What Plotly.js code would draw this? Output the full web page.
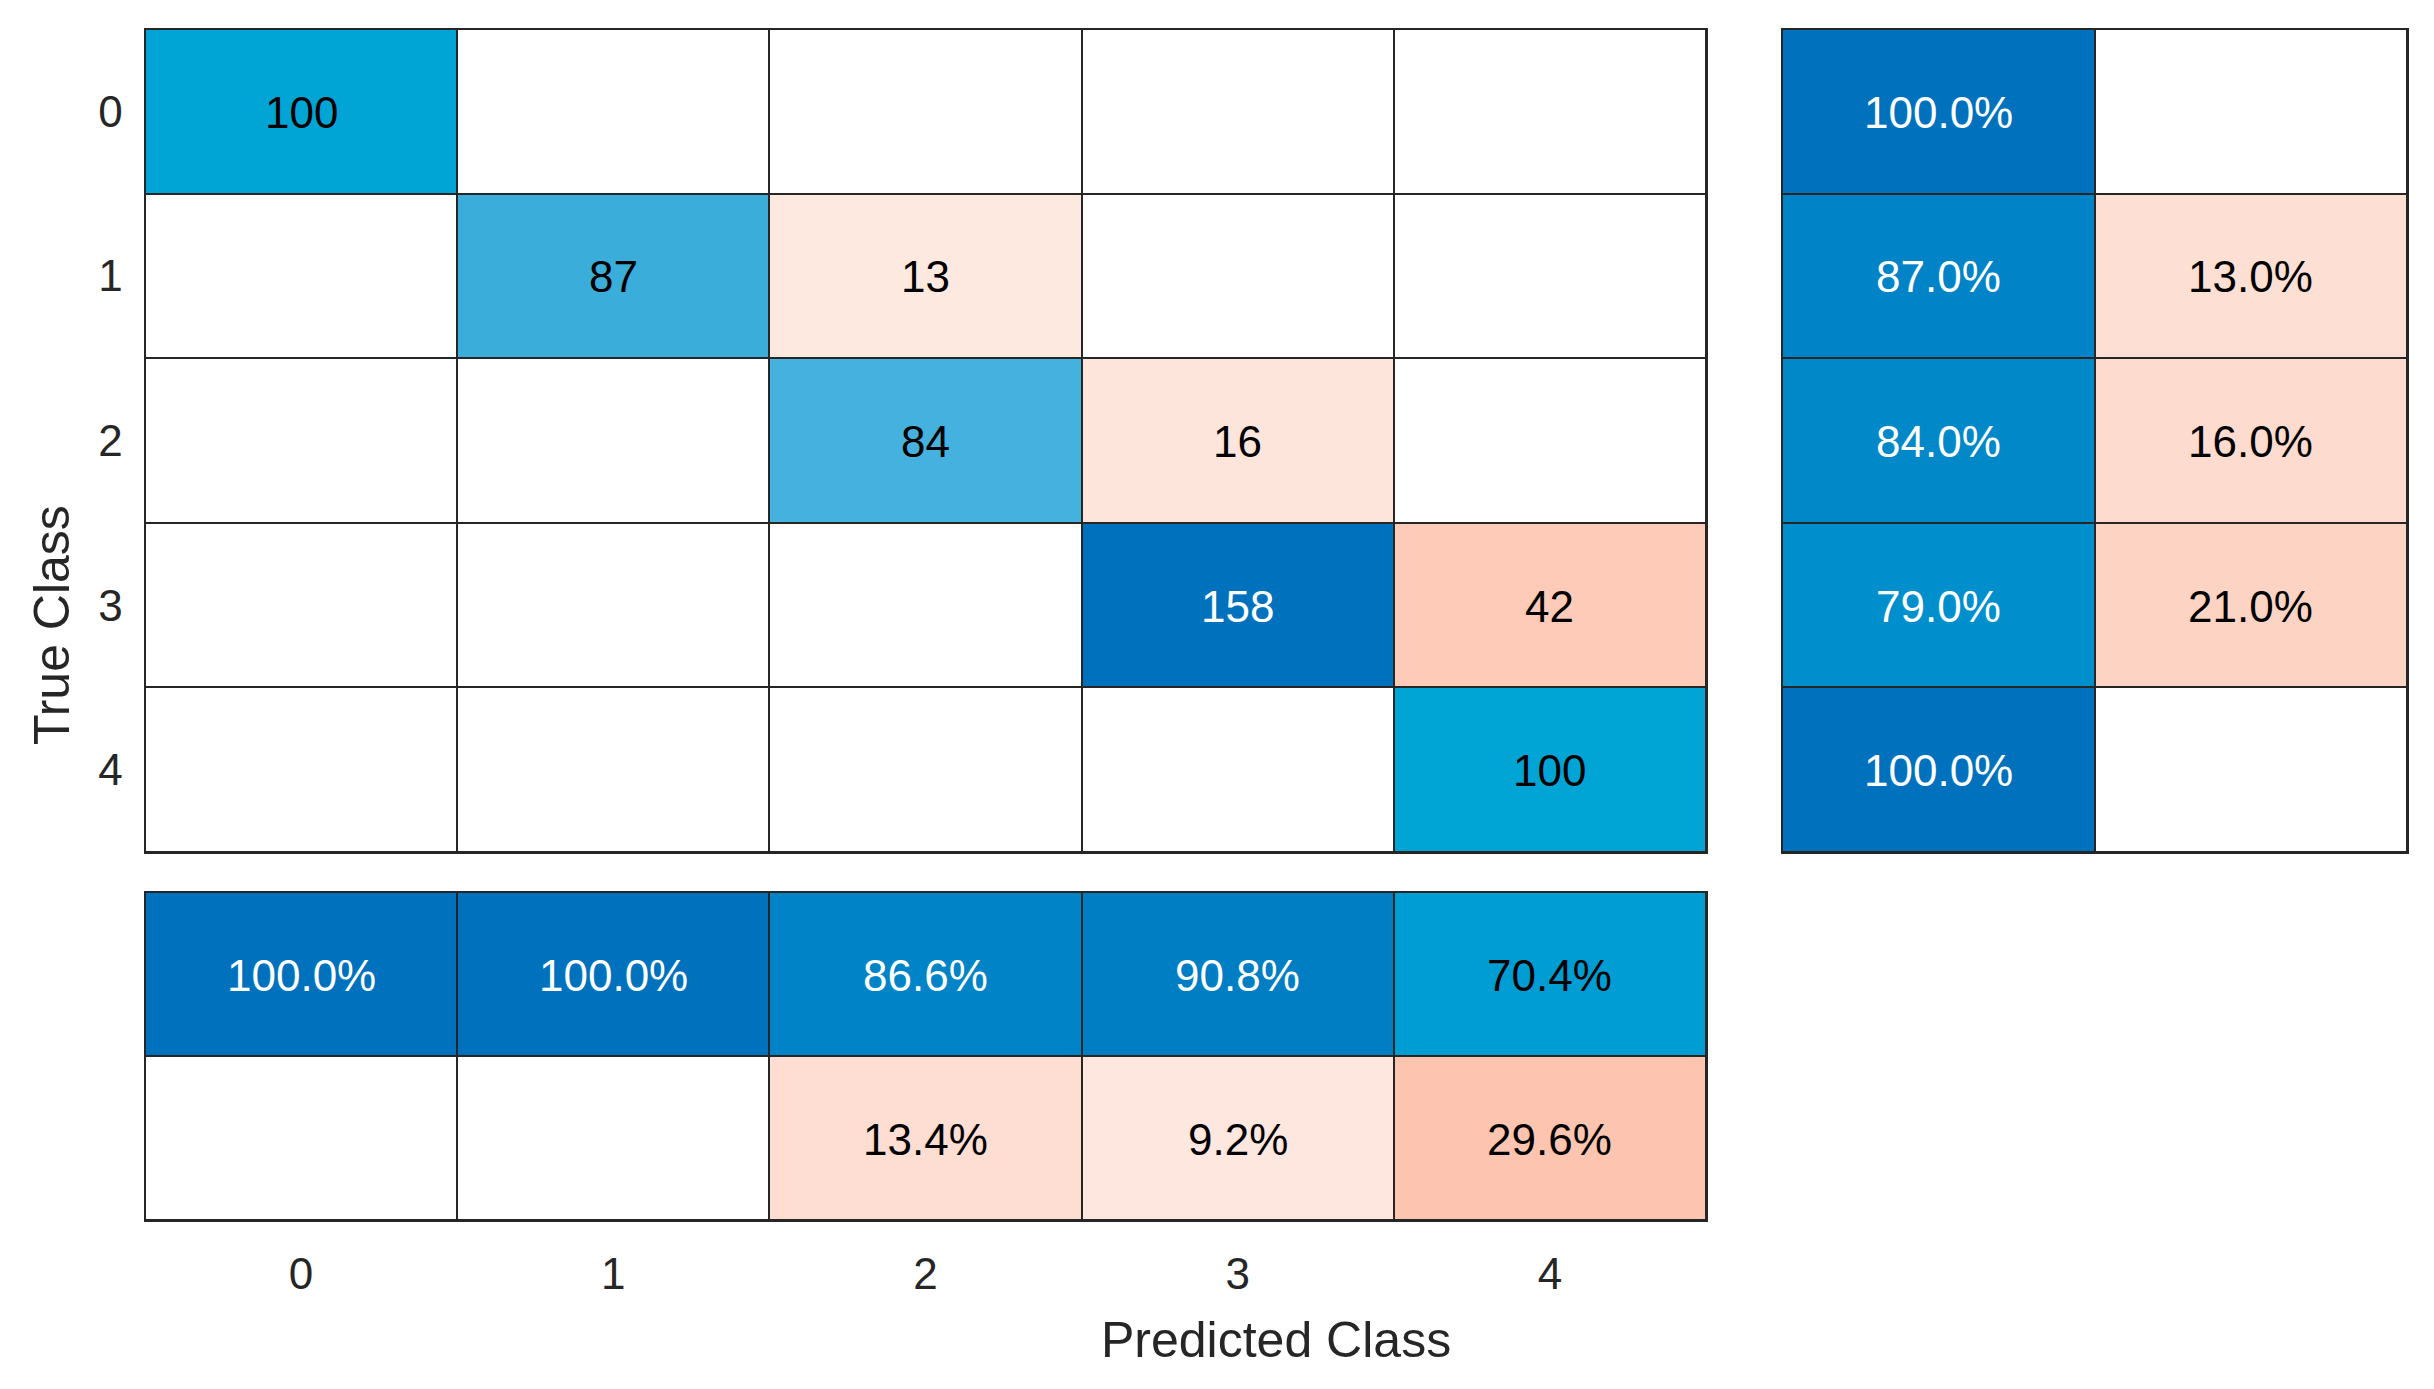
<!DOCTYPE html>
<html>
<head>
<meta charset="utf-8">
<script src="https://cdn.plot.ly/plotly-3.0.1.min.js"></script>
<style>html,body{margin:0;padding:0;background:#fff;}#chart{width:2434px;height:1389px;}</style>
</head>
<body>
<div id="chart"></div>
<script>
// ---- data ----
const classes = ['0', '1', '2', '3', '4'];
const counts = [
  [100, 0, 0, 0, 0],
  [0, 87, 13, 0, 0],
  [0, 0, 84, 16, 0],
  [0, 0, 0, 158, 42],
  [0, 0, 0, 0, 100]
];
const rowCorrectPct = [100.0, 87.0, 84.0, 79.0, 100.0];
const rowIncorrectPct = [0, 13.0, 16.0, 21.0, 0];
const colCorrectPct = [100.0, 100.0, 86.6, 90.8, 70.4];
const colIncorrectPct = [0, 0, 13.4, 9.2, 29.6];
const summaryCats = ['correct', 'incorrect'];
const xTitle = 'Predicted Class';
const yTitle = 'True Class';

// ---- styling ----
const W = 2434, H = 1389;
const FONT = 'Liberation Sans, Arial, Helvetica, sans-serif';
const LINE = '#262626';
const blueScale = [
  [0, '#ffffff'], [0.532, '#45b1de'], [0.551, '#3aaddb'], [0.633, '#00a5d6'],
  [0.704, '#009dd4'], [0.79, '#008fcd'], [0.84, '#0088c9'], [0.87, '#0083c7'],
  [0.908, '#007ec4'], [1, '#0072bd']
];
const salmonScale = [
  [0, '#ffffff'], [0.082, '#fee9e1'], [0.101, '#fee5dc'], [0.13, '#fedfd4'],
  [0.16, '#fddbcf'], [0.21, '#fdd4c4'], [0.266, '#fecbb8'], [0.296, '#fdc5b0'],
  [1, '#d95319']
];
const maxCount = Math.max(...counts.flat());

function heat(x, y, z, scale, zmax, xa, ya) {
  return {
    type: 'heatmap', x: x, y: y, z: z, colorscale: scale, zmin: 0, zmax: zmax,
    showscale: false, xgap: 2, ygap: 2, hoverinfo: 'skip', xaxis: xa, yaxis: ya
  };
}
const txtColor = (t, good) => (good && t > 0.75) ? '#ffffff' : '#000000';
const annotations = [];
function cellLabel(x, y, text, color, xa, ya) {
  annotations.push({
    x: x, y: y, xref: xa, yref: ya, text: text, showarrow: false,
    xanchor: 'center', yanchor: 'middle', yshift: -1,
    font: { family: FONT, size: 44, color: color }
  });
}

const traces = [];

// main matrix
const zDiag = counts.map((r, i) => r.map((v, j) => i === j ? v : null));
const zOff = counts.map((r, i) => r.map((v, j) => i === j ? null : v));
traces.push(heat(classes, classes, zDiag, blueScale, maxCount, 'x', 'y'));
traces.push(heat(classes, classes, zOff, salmonScale, maxCount, 'x', 'y'));
counts.forEach((r, i) => r.forEach((v, j) => {
  if (v > 0) cellLabel(classes[j], classes[i], String(v), txtColor(v / maxCount, i === j), 'x', 'y');
}));

// right summary (per true class)
const zRightC = classes.map((c, i) => [rowCorrectPct[i], null]);
const zRightI = classes.map((c, i) => [null, rowIncorrectPct[i]]);
traces.push(heat(summaryCats, classes, zRightC, blueScale, 100, 'x2', 'y2'));
traces.push(heat(summaryCats, classes, zRightI, salmonScale, 100, 'x2', 'y2'));
classes.forEach((c, i) => {
  [rowCorrectPct[i], rowIncorrectPct[i]].forEach((v, k) => {
    if (v > 0) cellLabel(summaryCats[k], c, v.toFixed(1) + '%', txtColor(v / 100, k === 0), 'x2', 'y2');
  });
});

// bottom summary (per predicted class)
traces.push(heat(classes, summaryCats, [colCorrectPct, classes.map(() => null)], blueScale, 100, 'x3', 'y3'));
traces.push(heat(classes, summaryCats, [classes.map(() => null), colIncorrectPct], salmonScale, 100, 'x3', 'y3'));
[colCorrectPct, colIncorrectPct].forEach((row, k) => row.forEach((v, j) => {
  if (v > 0) cellLabel(classes[j], summaryCats[k], v.toFixed(1) + '%', txtColor(v / 100, k === 0), 'x3', 'y3');
}));

function ax(domain, cats, showLabels, isY) {
  const a = {
    domain: domain, type: 'category', categoryorder: 'array', categoryarray: cats,
    showgrid: false, zeroline: false, ticks: '', showline: true, mirror: true,
    linecolor: LINE, linewidth: 1.5, showticklabels: showLabels, fixedrange: true,
    tickfont: { family: FONT, size: 44, color: '#262626' },
    ticklabelstandoff: isY ? 12 : 15
  };
  if (isY) a.autorange = 'reversed';
  return a;
}
const mainX = [145 / W, 1706 / W];
const rightX = [1782 / W, 2407 / W];
const topY = [1 - 852 / H, 1 - 29 / H];
const botY = [1 - 1220 / H, 1 - 892 / H];

annotations.push(
  { text: xTitle, xref: 'paper', yref: 'paper', x: 1276 / W, y: 1 - 1340 / H,
    xanchor: 'center', yanchor: 'middle', showarrow: false,
    font: { family: FONT, size: 50, color: '#262626' } },
  { text: yTitle, xref: 'paper', yref: 'paper', x: 52 / W, y: 1 - 625 / H,
    xanchor: 'center', yanchor: 'middle', showarrow: false, textangle: -90,
    font: { family: FONT, size: 50, color: '#262626' } }
);

const layout = {
  width: W, height: H,
  margin: { l: 0, r: 0, t: 0, b: 0 },
  paper_bgcolor: '#ffffff', plot_bgcolor: LINE,
  showlegend: false, hovermode: false,
  xaxis: Object.assign(ax(mainX, classes, false, false), { anchor: 'y' }),
  yaxis: Object.assign(ax(topY, classes, true, true), { anchor: 'x' }),
  xaxis2: Object.assign(ax(rightX, summaryCats, false, false), { anchor: 'y2' }),
  yaxis2: Object.assign(ax(topY, classes, false, true), { anchor: 'x2' }),
  xaxis3: Object.assign(ax(mainX, classes, true, false), { anchor: 'y3' }),
  yaxis3: Object.assign(ax(botY, summaryCats, false, true), { anchor: 'x3' }),
  annotations: annotations
};

Plotly.newPlot('chart', traces, layout, { displayModeBar: false, staticPlot: true });
</script>
</body>
</html>
